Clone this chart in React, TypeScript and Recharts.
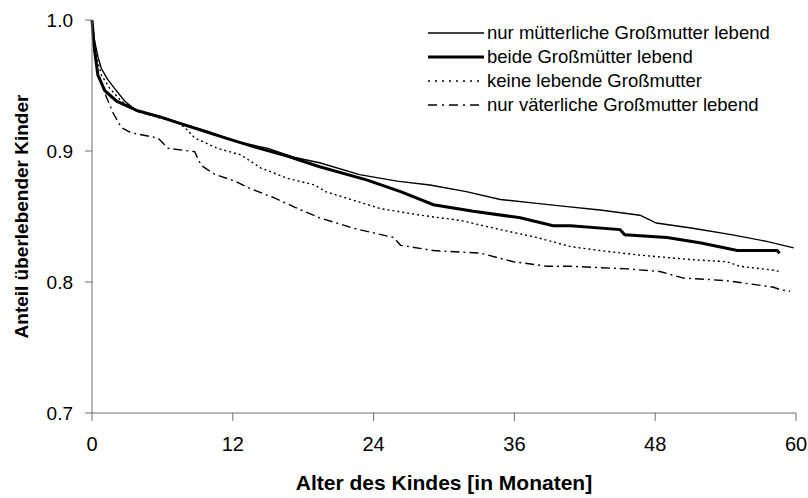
import { LineChart, Line, XAxis, YAxis, Legend, Label } from "recharts";

const FONT = "'Liberation Sans', Arial, sans-serif";
const AXIS = "#6f6f6f";

// Alter in Monaten / Anteil überlebender Kinder
const muetterlich = [
  { m: 0, v: 1.0 }, { m: 0.2, v: 0.985 }, { m: 0.5, v: 0.972 }, { m: 0.8, v: 0.963 },
  { m: 1.3, v: 0.955 }, { m: 1.9, v: 0.948 }, { m: 2.8, v: 0.938 }, { m: 3.9, v: 0.93 },
  { m: 5.6, v: 0.927 }, { m: 7.3, v: 0.922 }, { m: 9.9, v: 0.915 }, { m: 12.4, v: 0.907 },
  { m: 15, v: 0.902 }, { m: 17.3, v: 0.895 }, { m: 19.4, v: 0.891 }, { m: 22.8, v: 0.882 },
  { m: 26, v: 0.877 }, { m: 28.8, v: 0.874 }, { m: 31.9, v: 0.869 }, { m: 34.8, v: 0.863 },
  { m: 37.9, v: 0.86 }, { m: 40.5, v: 0.8575 }, { m: 43.3, v: 0.855 }, { m: 46.7, v: 0.851 },
  { m: 48.1, v: 0.845 }, { m: 51.2, v: 0.841 }, { m: 54.6, v: 0.836 }, { m: 57.5, v: 0.831 },
  { m: 59.8, v: 0.826 },
];

const beide = [
  { m: 0, v: 1.0 }, { m: 0.2, v: 0.978 }, { m: 0.5, v: 0.958 }, { m: 1.1, v: 0.946 },
  { m: 2.1, v: 0.938 }, { m: 3.8, v: 0.931 }, { m: 5.8, v: 0.926 }, { m: 8.2, v: 0.919 },
  { m: 11, v: 0.911 }, { m: 13.9, v: 0.903 }, { m: 16.7, v: 0.896 }, { m: 19.4, v: 0.888 },
  { m: 23.4, v: 0.878 }, { m: 26.3, v: 0.869 }, { m: 29.1, v: 0.859 }, { m: 32.5, v: 0.854 },
  { m: 36.5, v: 0.849 }, { m: 39.3, v: 0.843 }, { m: 40.8, v: 0.843 }, { m: 45, v: 0.84 },
  { m: 45.4, v: 0.836 }, { m: 49, v: 0.834 }, { m: 51.8, v: 0.83 }, { m: 55, v: 0.824 },
  { m: 58.4, v: 0.824 }, { m: 58.6, v: 0.822 },
];

const keine = [
  { m: 0, v: 1.0 }, { m: 0.3, v: 0.975 }, { m: 0.8, v: 0.958 }, { m: 1.5, v: 0.948 },
  { m: 2.5, v: 0.938 }, { m: 3.9, v: 0.93 }, { m: 5.5, v: 0.926 }, { m: 7.2, v: 0.922 },
  { m: 7.9, v: 0.918 }, { m: 8.75, v: 0.91 }, { m: 10.7, v: 0.902 }, { m: 12.7, v: 0.897 },
  { m: 14.4, v: 0.887 }, { m: 16.7, v: 0.879 }, { m: 19, v: 0.874 }, { m: 19.9, v: 0.869 },
  { m: 21.7, v: 0.864 }, { m: 24.6, v: 0.856 }, { m: 28, v: 0.851 }, { m: 31.4, v: 0.847 },
  { m: 34.8, v: 0.84 }, { m: 37.9, v: 0.834 }, { m: 40.8, v: 0.827 }, { m: 43.3, v: 0.824 },
  { m: 46.7, v: 0.8205 }, { m: 51.2, v: 0.817 }, { m: 54.1, v: 0.8155 }, { m: 55.2, v: 0.812 },
  { m: 58.1, v: 0.809 }, { m: 58.6, v: 0.808 },
];

const vaeterlich = [
  { m: 0, v: 1.0 }, { m: 0.3, v: 0.97 }, { m: 0.7, v: 0.954 }, { m: 1.1, v: 0.944 },
  { m: 1.8, v: 0.929 }, { m: 2.5, v: 0.918 }, { m: 3.3, v: 0.914 }, { m: 5.6, v: 0.91 },
  { m: 6.5, v: 0.902 }, { m: 8.75, v: 0.8995 }, { m: 9.3, v: 0.889 }, { m: 10.5, v: 0.882 },
  { m: 12.2, v: 0.877 }, { m: 13.3, v: 0.872 }, { m: 15.6, v: 0.864 }, { m: 17.3, v: 0.857 },
  { m: 19.4, v: 0.849 }, { m: 22.3, v: 0.841 }, { m: 25.7, v: 0.834 }, { m: 26.3, v: 0.828 },
  { m: 29.1, v: 0.824 }, { m: 33.1, v: 0.822 }, { m: 35.9, v: 0.8155 }, { m: 38.8, v: 0.812 },
  { m: 40.8, v: 0.812 }, { m: 45.6, v: 0.81 }, { m: 48.4, v: 0.808 }, { m: 50.4, v: 0.803 },
  { m: 54.1, v: 0.801 }, { m: 58.1, v: 0.796 }, { m: 58.7, v: 0.794 }, { m: 59.5, v: 0.793 },
];

const xTicks = [0, 12, 24, 36, 48, 60];
const yTicks = [0.7, 0.8, 0.9, 1.0];

const series = [
  { name: "nur mütterliche Großmutter lebend", data: muetterlich, width: 1.4, dash: undefined, legendDash: undefined },
  { name: "beide Großmütter lebend", data: beide, width: 3, dash: undefined, legendDash: undefined },
  { name: "keine lebende Großmutter", data: keine, width: 1.4, dash: "2 3", legendDash: "2 5" },
  { name: "nur väterliche Großmutter lebend", data: vaeterlich, width: 1.4, dash: "9 4 2 4", legendDash: "9 5 2 5" },
];

function LegendBox() {
  return (
    <div style={{ fontFamily: FONT, fontSize: 18.5, color: "#000" }}>
      {series.map((s) => (
        <div key={s.name} style={{ display: "flex", alignItems: "center", height: 24, whiteSpace: "nowrap" }}>
          <svg width={56} height={6} style={{ display: "block" }}>
            <line x1={0} y1={3} x2={56} y2={3} stroke="#000" strokeWidth={s.width} strokeDasharray={s.legendDash} />
          </svg>
          <span style={{ marginLeft: 3 }}>{s.name}</span>
        </div>
      ))}
    </div>
  );
}

export default function App() {
  return (
    <div style={{ position: "absolute", left: 0, top: 0, background: "#fff" }}>
      <LineChart width={808} height={498} margin={{ top: 20, right: 12, left: 0, bottom: 0 }}>
        <XAxis
          type="number"
          dataKey="m"
          domain={[0, 60]}
          ticks={xTicks}
          height={85}
          stroke={AXIS}
          tickSize={8}
          tickMargin={16}
          tick={{ fill: "#000", fontSize: 20, fontFamily: FONT }}
        >
          <Label
            value="Alter des Kindes [in Monaten]"
            position="insideBottom"
            offset={8}
            style={{ fontFamily: FONT, fontSize: 21, fontWeight: 700, fill: "#000" }}
          />
        </XAxis>
        <YAxis
          type="number"
          domain={[0.7, 1.0]}
          ticks={yTicks}
          width={92}
          stroke={AXIS}
          tickSize={7}
          tickMargin={12}
          tickFormatter={(v: number) => v.toFixed(1)}
          tick={{ fill: "#000", fontSize: 19, fontFamily: FONT }}
        >
          <Label
            value="Anteil überlebender Kinder"
            angle={-90}
            position="insideLeft"
            offset={21}
            style={{ fontFamily: FONT, fontSize: 19, fontWeight: 700, fill: "#000", textAnchor: "middle" }}
          />
        </YAxis>
        <Legend
          layout="vertical"
          align="center"
          verticalAlign="middle"
          wrapperStyle={{ top: 21, left: 428, width: "auto" }}
          content={() => <LegendBox />}
        />
        {series.map((s) => (
          <Line
            key={s.name}
            name={s.name}
            data={s.data}
            dataKey="v"
            type="linear"
            stroke="#000"
            strokeWidth={s.width}
            strokeDasharray={s.dash}
            dot={false}
            activeDot={false}
            isAnimationActive={false}
          />
        ))}
      </LineChart>
    </div>
  );
}
